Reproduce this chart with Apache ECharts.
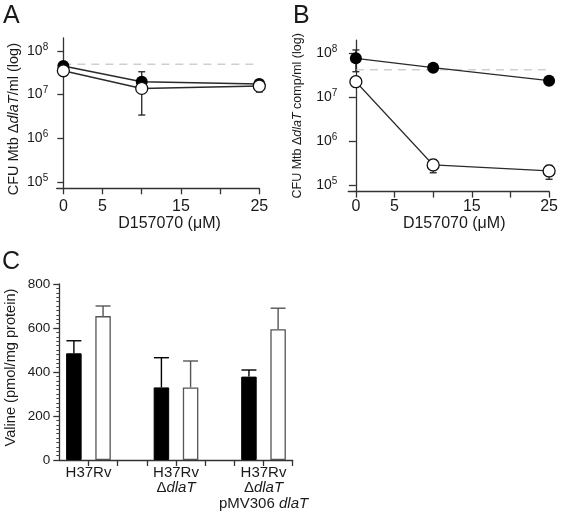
<!DOCTYPE html>
<html><head><meta charset="utf-8">
<script src="https://cdn.jsdelivr.net/npm/echarts@6/dist/echarts.min.js"></script>
<style>html,body{margin:0;padding:0;background:#fff}#c{width:561px;height:514px}</style>
</head><body><div id="c"></div>
<script>
// ---- data ----
const doses = [0, 10, 25];
const aFilled = [4.53e7, 1.97e7, 1.75e7];
const aFilledLow = [4.2e7, 1.3e7, 1.45e7];
const aFilledHigh = [4.9e7, 3.35e7, 2.2e7];
const aOpen = [3.53e7, 1.39e7, 1.57e7];
const aOpenLow = [3.2e7, 3.4e6, 1.15e7];
const aOpenHigh = [3.9e7, 2.4e7, 2.0e7];
const aRef = 5.0e7;
const bFilled = [7.69e7, 4.7e7, 2.38e7];
const bFilledLow = [3.8e7, 4.4e7, 2.2e7];
const bFilledHigh = [1.19e8, 5.0e7, 2.6e7];
const bOpen = [2.25e7, 2.86e5, 2.09e5];
const bOpenLow = [2.0e7, 1.9e5, 1.35e5];
const bOpenHigh = [2.5e7, 3.8e5, 2.8e5];
const bRef = 4.2e7;
const xTicks = [0, 5, 10, 15, 20, 25];
const xTickLabels = [0, 5, 15, 25];
const logTicks = [5, 6, 7, 8];
const strains = ['H37Rv', 'H37Rv\nΔ{i|dlaT}', 'H37Rv\nΔ{i|dlaT}\npMV306 {i|dlaT}'];
const valineBlack = [485, 330, 379];
const valineBlackErr = [542, 465, 409];
const valineWhite = [654, 330, 594];
const valineWhiteErr = [700, 450, 690];

// ---- helpers ----
const FF = '"Liberation Sans", Arial, sans-serif';
const INK = '#1a1a1a';
const L = v => Math.log10(v);
const pts = arr => doses.map((d, i) => [d, L(arr[i])]);
const errs = (lo, hi) => doses.map((d, i) => [d, L(lo[i]), L(hi[i])]);

function errRender(cap, color, width) {
  return function (params, api) {
    const x = api.value(0);
    const a = api.coord([x, api.value(1)]);
    const b = api.coord([x, api.value(2)]);
    const mk = (x1, y1, x2, y2) => ({ type: 'line', shape: { x1, y1, x2, y2 }, style: { stroke: color, lineWidth: width } });
    return { type: 'group', children: [
      mk(a[0], a[1], b[0], b[1]),
      mk(a[0] - cap, a[1], a[0] + cap, a[1]),
      mk(b[0] - cap, b[1], b[0] + cap, b[1])
    ] };
  };
}
function barErrRender(params, api) {
  const x = api.value(0);
  const a = api.coord([x, api.value(1)]);
  const b = api.coord([x, api.value(2)]);
  const color = api.value(3) ? '#555' : '#000';
  const mk = (x1, y1, x2, y2) => ({ type: 'line', shape: { x1, y1, x2, y2 }, style: { stroke: color, lineWidth: 1.4 } });
  return { type: 'group', children: [mk(a[0], a[1], b[0], b[1]), mk(b[0] - 7.5, b[1], b[0] + 7.5, b[1])] };
}

const axLine = { show: true, lineStyle: { color: '#333', width: 1.3 } };
const tickStyle = { color: '#333', width: 1.3 };

function xAxisAB(grid, min, margin, gap, padLeft) {
  return {
    gridIndex: grid, type: 'value', min: min, max: 25, splitLine: { show: false },
    axisLine: axLine,
    axisTick: { show: true, customValues: xTicks, length: 6, lineStyle: tickStyle },
    axisLabel: { customValues: xTickLabels, fontSize: 16, fontFamily: FF, color: INK, margin: margin },
    name: 'D157070 (μM)', nameLocation: 'middle', nameGap: gap,
    nameTextStyle: { fontSize: 16, fontFamily: FF, color: INK, padding: [0, 0, 0, padLeft] }
  };
}
function yAxisAB(grid, name, nameSize, gap, margin, tickLen, pad) {
  return {
    gridIndex: grid, type: 'value', min: 4.85, max: 8.3, splitLine: { show: false },
    axisLine: axLine,
    axisTick: { show: true, customValues: logTicks, length: tickLen, lineStyle: tickStyle },
    axisLabel: {
      customValues: logTicks, margin: margin,
      formatter: v => '{b|10}{s|' + v + '}',
      rich: {
        b: { fontSize: 14, fontFamily: FF, color: INK },
        s: { fontSize: 10, fontFamily: FF, color: INK, padding: [0, 0, 8, 0] }
      }
    },
    name: name, nameLocation: 'middle', nameGap: gap, nameRotate: 90,
    nameTextStyle: {
      fontSize: nameSize, fontFamily: FF, color: INK, padding: pad,
      rich: { i: { fontSize: nameSize, fontFamily: FF, color: INK, fontStyle: 'italic' } }
    }
  };
}

function lineSeries(grid, arr, filled, lw) {
  return {
    type: 'line', xAxisIndex: grid, yAxisIndex: grid, data: pts(arr), z: 3,
    symbol: 'circle', symbolSize: 12, showSymbol: true,
    lineStyle: { color: '#2a2a2a', width: lw },
    itemStyle: { color: filled ? '#000' : '#fff', borderColor: '#111', borderWidth: filled ? 0 : 1.3, opacity: 1 }
  };
}
function refLine(grid, v, xEnd) {
  return {
    type: 'line', xAxisIndex: grid, yAxisIndex: grid, data: [[0, L(v)], [xEnd, L(v)]], z: 1, clip: false,
    symbol: 'none', silent: true,
    lineStyle: { color: '#cfcfcf', width: 1.6, type: [8, 6] }
  };
}
function errSeries(grid, lo, hi) {
  return {
    type: 'custom', xAxisIndex: grid, yAxisIndex: grid, z: 2, renderItem: errRender(3.5, '#222', 1.3),
    data: errs(lo, hi), encode: { x: 0, y: [1, 2] }
  };
}

// panel C data mapped to slot positions
const barData = [];
const barErr = [];
strains.forEach((s, g) => {
  barData.push({ value: [g * 3 + 0.5, valineBlack[g]], itemStyle: { color: '#000', borderColor: '#000', borderWidth: 1 } });
  barData.push({ value: [g * 3 + 1.5, valineWhite[g]], itemStyle: { color: '#fff', borderColor: '#555', borderWidth: 1.3 } });
  barErr.push([g * 3 + 0.5, valineBlack[g], valineBlackErr[g], 0]);
  barErr.push([g * 3 + 1.5, valineWhite[g], valineWhiteErr[g], 1]);
});
const strainPos = strains.map((s, g) => g * 3 + 1);

const chart = echarts.init(document.getElementById('c'), null, { renderer: 'canvas' });
chart.setOption({
  animation: false,
  backgroundColor: '#fff',
  graphic: [
    { type: 'text', x: 3, y: 16, style: { text: 'A', fontSize: 25, fontFamily: FF, fill: INK, verticalAlign: 'middle', align: 'left' } },
    { type: 'text', x: 293, y: 16, style: { text: 'B', fontSize: 25, fontFamily: FF, fill: INK, verticalAlign: 'middle', align: 'left' } },
    { type: 'text', x: 2, y: 262, style: { text: 'C', fontSize: 25, fontFamily: FF, fill: INK, verticalAlign: 'middle', align: 'left' } }
  ],
  grid: [
    { left: 56.7, top: 38, width: 202.6, height: 150.3 },
    { left: 348.3, top: 40.1, width: 204.4, height: 151.5 },
    { left: 59.3, top: 284, width: 233.4, height: 176 }
  ],
  xAxis: [
    xAxisAB(0, -0.85, 10, 27, 23),
    xAxisAB(1, -0.98, 6.5, 23.5, 11),
    {
      gridIndex: 2, type: 'value', min: 0, max: 8, splitLine: { show: false },
      axisLine: axLine,
      axisTick: { show: true, customValues: [1, 2, 3, 4, 5, 6, 7, 8], length: 6, lineStyle: tickStyle },
      axisLabel: {
        customValues: strainPos, margin: 5, fontSize: 15, lineHeight: 15.5, fontFamily: FF, color: INK,
        formatter: v => strains[strainPos.indexOf(v)],
        rich: { i: { fontSize: 15, lineHeight: 15.5, fontFamily: FF, color: INK, fontStyle: 'italic' } }
      }
    }
  ],
  yAxis: [
    yAxisAB(0, 'CFU Mtb Δ{i|dlaT}/ml (log)', 14.5, 35.5, 8.5, 6, [0, 12, 0, 0]),
    yAxisAB(1, 'CFU Mtb Δ{i|dlaT} comp/ml (log)', 12.5, 44.5, 11, 7, [0, 0, 0, 0]),
    {
      gridIndex: 2, type: 'value', min: 0, max: 800, interval: 200, splitLine: { show: false },
      axisLine: axLine,
      axisTick: { show: true, length: 6, lineStyle: tickStyle },
      minorTick: { show: true, splitNumber: 10, length: 3, lineStyle: { color: '#444', width: 1 } },
      axisLabel: { fontSize: 13.5, fontFamily: FF, color: INK, margin: 9 },
      name: 'Valine (pmol/mg protein)', nameLocation: 'middle', nameGap: 41, nameRotate: 90,
      nameTextStyle: { fontSize: 14.6, fontFamily: FF, color: INK, padding: [0, 0, 0, 9] }
    }
  ],
  series: [
    refLine(0, aRef, 25),
    errSeries(0, aFilledLow, aFilledHigh),
    errSeries(0, aOpenLow, aOpenHigh),
    lineSeries(0, aFilled, true, 1.5),
    lineSeries(0, aOpen, false, 1.5),
    refLine(1, bRef, 25.7),
    errSeries(1, bFilledLow, bFilledHigh),
    errSeries(1, bOpenLow, bOpenHigh),
    lineSeries(1, bFilled, true, 1.2),
    lineSeries(1, bOpen, false, 1.2),
    {
      type: 'bar', xAxisIndex: 2, yAxisIndex: 2, barWidth: 15.5, data: barData, z: 3
    },
    {
      type: 'custom', xAxisIndex: 2, yAxisIndex: 2, z: 2, renderItem: barErrRender,
      data: barErr, encode: { x: 0, y: [1, 2] }
    }
  ]
});
</script>
</body></html>
